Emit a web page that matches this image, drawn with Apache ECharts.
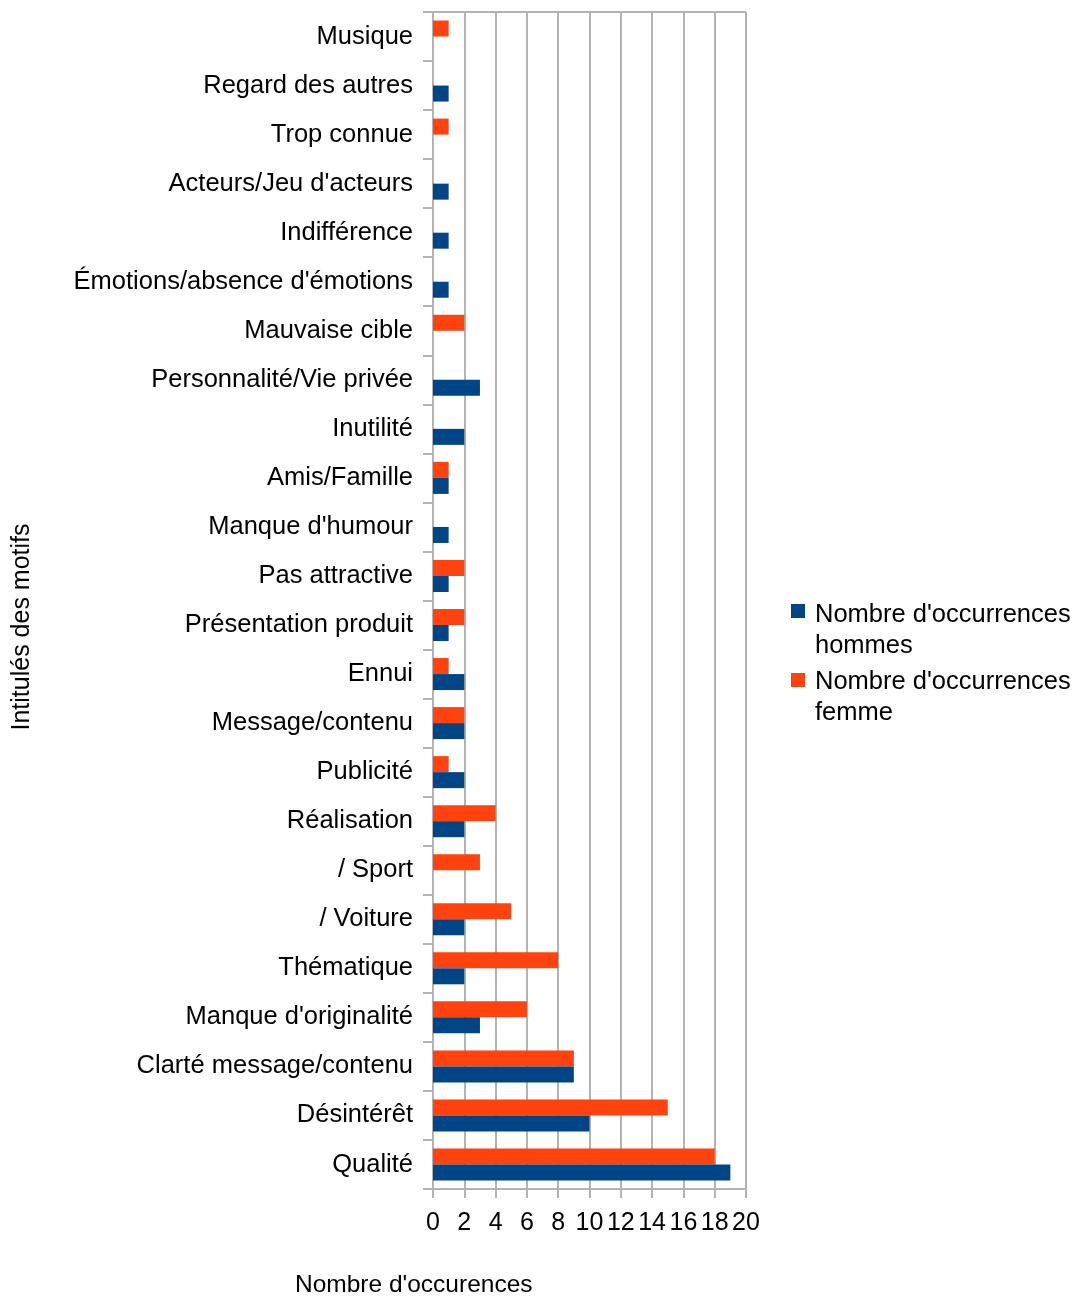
<!DOCTYPE html>
<html><head><meta charset="utf-8">
<script src="https://cdn.jsdelivr.net/npm/echarts@6/dist/echarts.min.js"></script>
<style>html,body{margin:0;padding:0;background:#fff}#c{width:1080px;height:1300px}</style>
</head><body><div id="c"></div>
<script>
const categories = ["Qualité","Désintérêt","Clarté message/contenu","Manque d'originalité","Thématique","/ Voiture","/ Sport","Réalisation","Publicité","Message/contenu","Ennui","Présentation produit","Pas attractive","Manque d'humour","Amis/Famille","Inutilité","Personnalité/Vie privée","Mauvaise cible","Émotions/absence d'émotions","Indifférence","Acteurs/Jeu d'acteurs","Trop connue","Regard des autres","Musique"];
const hommes = [19,10,9,3,2,2,0,2,2,2,2,1,1,1,1,2,3,0,1,1,1,0,1,0];
const femme  = [18,15,9,6,8,5,3,4,1,2,1,2,2,0,1,0,0,2,0,0,0,1,0,1];
const xTicks = [0,2,4,6,8,10,12,14,16,18,20];
const seriesNames = ["Nombre d'occurrences hommes","Nombre d'occurrences femme"];
const legendLines = [["Nombre d'occurrences","hommes"],["Nombre d'occurrences","femme"]];
const colors = ['#004586','#ff420e'];
const font = "'Liberation Sans', Arial, sans-serif";
const chart = echarts.init(document.getElementById('c'), null, {renderer:'canvas'});
chart.setOption({
  animation:false,
  grid:{left:433,right:334,top:12,bottom:111,containLabel:false},
  xAxis:{type:'value',min:xTicks[0],max:xTicks[xTicks.length-1],interval:2,
    axisLine:{show:true,lineStyle:{color:'#b3b3b3',width:2}},
    axisTick:{show:true,length:9,lineStyle:{color:'#b3b3b3',width:2}},
    axisLabel:{color:'#000',fontFamily:font,fontSize:25,margin:22},
    splitLine:{show:true,lineStyle:{color:'#b3b3b3',width:2}}},
  yAxis:{type:'category',data:categories,
    axisLine:{show:true,lineStyle:{color:'#b3b3b3',width:2}},
    axisTick:{show:true,length:10,lineStyle:{color:'#b3b3b3',width:2}},
    axisLabel:{color:'#000',fontFamily:font,fontSize:25.5,margin:20},
    splitLine:{show:false}},
  graphic:[
    {type:'text',left:295,top:1273,style:{text:"Nombre d'occurences",font:'24.5px '+font,fill:'#000'}},
    {type:'text',x:22,y:627,rotation:Math.PI/2,style:{text:'Intitulés des motifs',font:'25px '+font,fill:'#000',align:'center',verticalAlign:'middle'}},
    {type:'line',shape:{x1:433,y1:12,x2:746,y2:12},style:{stroke:'#b3b3b3',lineWidth:2}},
    {type:'line',shape:{x1:746,y1:12,x2:746,y2:1189},style:{stroke:'#b3b3b3',lineWidth:2}},
    {type:'rect',shape:{x:791,y:604,width:14,height:14},style:{fill:colors[0]}},
    {type:'text',x:815,y:599,style:{text:legendLines[0].join('\n'),font:'25.5px '+font,lineHeight:31,fill:'#000'}},
    {type:'rect',shape:{x:791,y:673,width:14,height:14},style:{fill:colors[1]}},
    {type:'text',x:815,y:666,style:{text:legendLines[1].join('\n'),font:'25.5px '+font,lineHeight:31,fill:'#000'}}
  ],
  series:[
    {name:seriesNames[1],type:'bar',data:femme,barWidth:16,barGap:'0%',itemStyle:{color:colors[1]}},
    {name:seriesNames[0],type:'bar',data:hommes,barWidth:16,barGap:'0%',itemStyle:{color:colors[0]}}
  ]
});
</script></body></html>
